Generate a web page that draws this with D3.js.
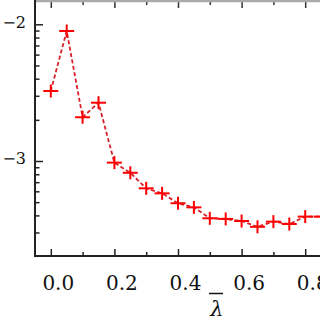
<!DOCTYPE html>
<html>
<head>
<meta charset="utf-8">
<script src="https://cdn.jsdelivr.net/npm/d3@7"></script>
<style>
  html, body { margin: 0; padding: 0; background: #fff; }
  svg { display: block; }
  text { font-family: "DejaVu Serif", serif; fill: #111; }
</style>
</head>
<body>
<div id="chart"></div>
<script>
// lambda bar values and the measured quantity (log axis)
const lambdas = [0.0, 0.05, 0.1, 0.15, 0.2, 0.25, 0.3, 0.35, 0.4, 0.45, 0.5, 0.55, 0.6, 0.65, 0.7, 0.75, 0.8, 0.85];
const values = [3.25e-3, 8.93e-3, 2.09e-3, 2.67e-3, 9.73e-4, 8.20e-4, 6.31e-4, 5.80e-4, 4.91e-4, 4.58e-4,
                3.81e-4, 3.77e-4, 3.64e-4, 3.30e-4, 3.60e-4, 3.46e-4, 3.92e-4, 3.92e-4];

const xMajor = [0.0, 0.2, 0.4, 0.6, 0.8];
const xMinor = [0.1, 0.3, 0.5, 0.7, 0.9];
const xTickLabels = ['0.0', '0.2', '0.4', '0.6', '0.8'];
const yMajor = [1e-2, 1e-3];
const yTickLabels = ['\u22122', '\u22123'];
const yMinor = [2e-3, 3e-3, 4e-3, 5e-3, 6e-3, 7e-3, 8e-3, 9e-3,
                2e-4, 3e-4, 4e-4, 5e-4, 6e-4, 7e-4, 8e-4, 9e-4];

const width = 320;
const height = 320;
const plotLeft = 35, plotTop = 1, plotBottom = 256;
const serif = '"DejaVu Serif", serif';

const svg = d3.select('#chart').append('svg')
    .attr('width', width)
    .attr('height', height);

const x = d3.scaleLinear().domain([0, 0.8]).range([50.8, 305.2]);
const y = d3.scaleLog().domain([1e-3, 1e-2]).range([161, 24.3]);

// bottom axis (ticks pointing inward)
const xAxisMajor = d3.axisBottom(x).tickValues(xMajor).tickSize(-7).tickPadding(20)
    .tickFormat((d, i) => xTickLabels[i]);
const gx = svg.append('g').attr('transform', `translate(0,${plotBottom})`).call(xAxisMajor);
gx.attr('font-family', serif);
gx.select('.domain').remove();
gx.selectAll('line').attr('stroke', '#222').attr('stroke-width', 1.5);
gx.selectAll('text').attr('font-size', 20).attr('dx', 7)
    .style('font-family', serif).attr('fill', '#111');

const gxm = svg.append('g').attr('transform', `translate(0,${plotBottom})`)
    .call(d3.axisBottom(x).tickValues(xMinor).tickSize(-4).tickFormat(''));
gxm.select('.domain').remove();
gxm.selectAll('line').attr('stroke', '#222').attr('stroke-width', 1.5);

// top axis (mirrored ticks, no labels)
const gt = svg.append('g').attr('transform', `translate(0,${plotTop})`)
    .call(d3.axisTop(x).tickValues(xMajor).tickSize(-7).tickFormat(''));
gt.select('.domain').remove();
gt.selectAll('line').attr('stroke', '#333').attr('stroke-width', 1.5);
const gtm = svg.append('g').attr('transform', `translate(0,${plotTop})`)
    .call(d3.axisTop(x).tickValues(xMinor).tickSize(-4).tickFormat(''));
gtm.select('.domain').remove();
gtm.selectAll('line').attr('stroke', '#333').attr('stroke-width', 1.5);

// left axis
const gy = svg.append('g').attr('transform', `translate(${plotLeft},0)`)
    .call(d3.axisLeft(y).tickValues(yMajor).tickSize(-8).tickPadding(9)
        .tickFormat((d, i) => yTickLabels[i]));
gy.attr('font-family', serif);
gy.select('.domain').remove();
gy.selectAll('line').attr('stroke', '#222').attr('stroke-width', 1.5);
gy.selectAll('text').attr('font-size', 16).attr('dy', '0.17em')
    .style('font-family', serif).attr('fill', '#111');

const gym = svg.append('g').attr('transform', `translate(${plotLeft},0)`)
    .call(d3.axisLeft(y).tickValues(yMinor.filter(v => y(v) < plotBottom - 1)).tickSize(-4.5).tickFormat(''));
gym.select('.domain').remove();
gym.selectAll('line').attr('stroke', '#222').attr('stroke-width', 1.5);

// frame lines
svg.append('line').attr('x1', plotLeft).attr('x2', width).attr('y1', plotTop).attr('y2', plotTop)
    .attr('stroke', '#aaa').attr('stroke-width', 2.5);
svg.append('line').attr('x1', plotLeft).attr('x2', plotLeft).attr('y1', 0).attr('y2', plotBottom + 1)
    .attr('stroke', '#222').attr('stroke-width', 2);
svg.append('line').attr('x1', plotLeft - 1).attr('x2', width).attr('y1', plotBottom).attr('y2', plotBottom)
    .attr('stroke', '#222').attr('stroke-width', 2);

// data
svg.append('clipPath').attr('id', 'plot-clip')
    .append('rect').attr('x', plotLeft + 1).attr('y', plotTop + 1)
    .attr('width', width - plotLeft).attr('height', plotBottom - plotTop - 2);

const points = lambdas.map((l, i) => ({ l, v: values[i] }));
const plot = svg.append('g').attr('clip-path', 'url(#plot-clip)');

const line = d3.line().x(d => x(d.l)).y(d => y(d.v));
plot.append('path')
    .datum(points)
    .attr('d', line)
    .attr('fill', 'none')
    .attr('stroke', '#d8202a')
    .attr('stroke-width', 1.8)
    .attr('stroke-dasharray', '4,2.5');

const arm = 7.5;
const marks = plot.selectAll('g.mark').data(points).enter().append('g')
    .attr('class', 'mark')
    .attr('transform', d => `translate(${x(d.l)},${y(d.v)})`);
marks.append('line').attr('x1', -arm).attr('x2', arm).attr('y1', 0).attr('y2', 0)
    .attr('stroke', '#ff0000').attr('stroke-width', 2);
marks.append('line').attr('x1', 0).attr('x2', 0).attr('y1', -arm + 1).attr('y2', arm - 1)
    .attr('stroke', '#ff0000').attr('stroke-width', 2);

// x label: lambda with overbar
svg.append('text')
    .attr('x', 217).attr('y', 316)
    .attr('text-anchor', 'middle')
    .attr('font-size', 21)
    .attr('font-style', 'italic')
    .style('font-family', serif)
    .text('\u03bb');
svg.append('line').attr('x1', 209).attr('x2', 223).attr('y1', 293.5).attr('y2', 293.5)
    .attr('stroke', '#111').attr('stroke-width', 1.5);
</script>
</body>
</html>
